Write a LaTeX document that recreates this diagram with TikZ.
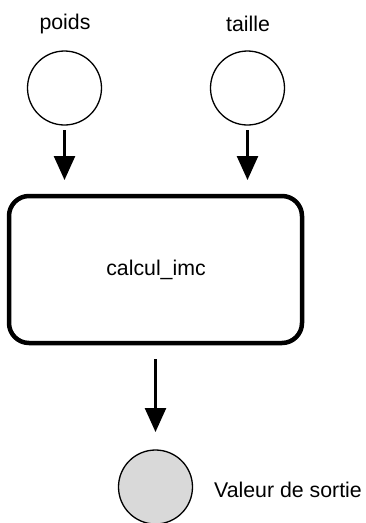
\documentclass[tikz,border=0pt]{standalone}
\usepackage{fontspec}
\setmainfont{Liberation Sans}
\usetikzlibrary{arrows.meta}
\definecolor{outgray}{RGB}{217,217,217}
\tikzset{
  inputc/.style={circle, draw=black, line width=1.3pt, minimum size=74pt, inner sep=0pt},
  outputc/.style={inputc, fill=outgray},
  procbox/.style={draw=black, line width=4.5pt, rounded corners=20pt, minimum width=293pt, minimum height=147pt},
  lbl/.style={font=\fontsize{21.3}{24}\selectfont, inner sep=0pt},
  flow/.style={line width=2.6pt, -{Triangle[width=21pt,length=24pt]}}
}
\begin{document}
\begin{tikzpicture}[x=1pt,y=-1pt]
\useasboundingbox (0,0) rectangle (366,523);
\node[lbl] (lp) at (65,24) {poids};
\node[lbl] (lt) at (248,24) {taille};
\node[inputc] (p) at (64.5,88) {};
\node[inputc] (t) at (247.5,88) {};
\coordinate (pa) at (64.5,130);
\coordinate (pb) at (64.5,180);
\coordinate (ta) at (247.5,130);
\coordinate (tb) at (247.5,180);
\node[procbox] (c) at (155.5,269.5) {};
\node[lbl] (cl) at (156,270) {calcul\_imc};
\coordinate (ca) at (155.5,359);
\coordinate (cb) at (155.5,432);
\node[outputc] (o) at (155.5,487) {};
\node[lbl, anchor=west] (ol) at (214,490) {Valeur de sortie};
\draw[flow] (pa) -- (pb);
\draw[flow] (ta) -- (tb);
\draw[flow] (ca) -- (cb);
\end{tikzpicture}
\end{document}
